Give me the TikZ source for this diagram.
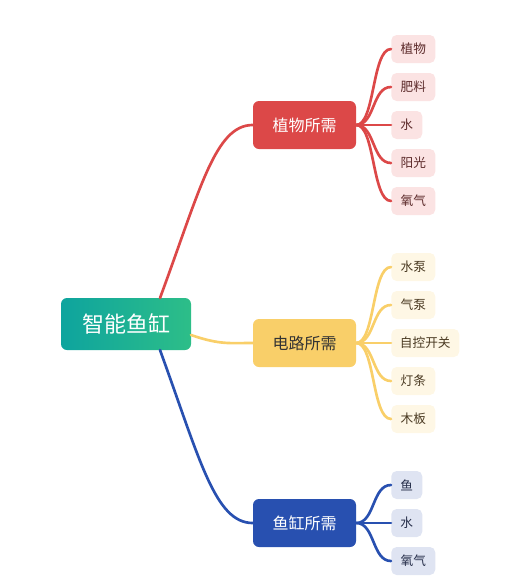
\documentclass[tikz,border=0pt]{standalone}
\usepackage{fontspec}
\setmainfont{Noto Sans CJK SC}
\definecolor{rootL}{HTML}{0EA49E}
\definecolor{rootR}{HTML}{2DBE88}
\definecolor{redc}{HTML}{DC4848}
\definecolor{yelc}{HTML}{F9CF69}
\definecolor{bluc}{HTML}{2850B0}
\definecolor{redleaf}{HTML}{FBE3E3}
\definecolor{yelleaf}{HTML}{FEF7E5}
\definecolor{bluleaf}{HTML}{DFE4F2}
\definecolor{redtxt}{HTML}{5C2A2A}
\definecolor{yeltxt}{HTML}{4A3A22}
\definecolor{blutxt}{HTML}{262E4A}
\begin{document}
\begin{tikzpicture}[x=0.75pt,y=-0.75pt,
  rootnode/.style={rounded corners=4.5pt,left color=rootL,right color=rootR,text=white,
    minimum width=97.5pt,minimum height=39pt,inner sep=0pt,font=\fontsize{16.5}{19}\selectfont},
  parent/.style={rounded corners=4.5pt,minimum width=77.25pt,minimum height=36pt,inner sep=0pt,
    font=\fontsize{12}{14}\selectfont},
  leaf/.style={rounded corners=4pt,minimum width=33pt,minimum height=21pt,inner sep=0pt,anchor=west,
    font=\fontsize{9.5}{11}\selectfont},
  narrow/.style={minimum width=23.25pt},
  wide/.style={minimum width=51pt},
  rleaf/.style={leaf,fill=redleaf,text=redtxt},
  yleaf/.style={leaf,fill=yelleaf,text=yeltxt},
  bleaf/.style={leaf,fill=bluleaf,text=blutxt},
  conn/.style={line width=2pt,line cap=round}
]
\useasboundingbox (0,0) rectangle (523,586);
\node[rootnode] (root) at (126,324) {智能鱼缸};
\node[parent,fill=redc,text=white] (p1) at (304.5,125) {植物所需};
\node[parent,fill=yelc,text=black!80] (p2) at (304.5,343) {电路所需};
\node[parent,fill=bluc,text=white] (p3) at (304.5,523) {鱼缸所需};

\coordinate (r1) at (160,298);
\coordinate (r2) at (191,335);
\coordinate (r3) at (160,350);
\draw[conn,redc] (r1) .. controls (200,190) and (215,125) .. (p1.west);
\draw[conn,yelc] (r2) .. controls (220,345) and (230,343) .. (p2.west);
\draw[conn,bluc] (r3) .. controls (200,460) and (215,523) .. (p3.west);

\node[rleaf] (a1) at (391,49) {植物};
\node[rleaf] (a2) at (391,87) {肥料};
\node[rleaf,narrow] (a3) at (391,125) {水};
\node[rleaf] (a4) at (391,163) {阳光};
\node[rleaf] (a5) at (391,201) {氧气};
\foreach \n in {a1,a2,a3,a4,a5}
  \draw[conn,redc] (p1.east) .. controls (375,125) and (372,0|-\n.west) .. (\n.west);

\node[yleaf] (b1) at (391,267) {水泵};
\node[yleaf] (b2) at (391,305) {气泵};
\node[yleaf,wide] (b3) at (391,343) {自控开关};
\node[yleaf] (b4) at (391,381) {灯条};
\node[yleaf] (b5) at (391,419) {木板};
\foreach \n in {b1,b2,b3,b4,b5}
  \draw[conn,yelc] (p2.east) .. controls (375,343) and (372,0|-\n.west) .. (\n.west);

\node[bleaf,narrow] (c1) at (391,485) {鱼};
\node[bleaf,narrow] (c2) at (391,523) {水};
\node[bleaf] (c3) at (391,561) {氧气};
\foreach \n in {c1,c2,c3}
  \draw[conn,bluc] (p3.east) .. controls (375,523) and (372,0|-\n.west) .. (\n.west);
\end{tikzpicture}
\end{document}
